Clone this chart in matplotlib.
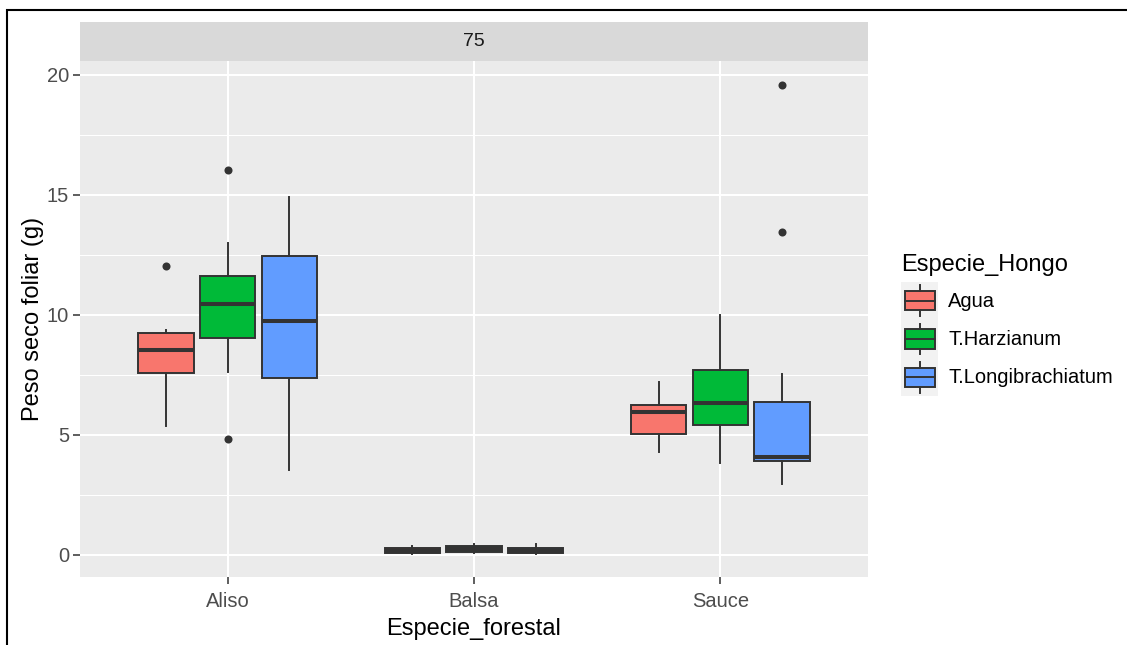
import matplotlib
matplotlib.use("Agg")
import matplotlib.pyplot as plt
from matplotlib.patches import Patch, Rectangle
from matplotlib.lines import Line2D
from matplotlib.legend_handler import HandlerBase
from matplotlib.ticker import MultipleLocator

plt.rcParams["font.family"] = ["Liberation Sans", "DejaVu Sans"]

# Data (box statistics per fungus, per forest species)
especies = ["Aliso", "Balsa", "Sauce"]
hongos = ["Agua", "T.Harzianum", "T.Longibrachiatum"]
colores = ["#F8766D", "#00BA38", "#619CFF"]
faceta = "75"

# rows: Agua, T.Harzianum, T.Longibrachiatum ; columns: Aliso, Balsa, Sauce
whisker_low = [[5.38, 0.03, 4.29], [7.63, 0.10, 3.83], [3.54, 0.02, 2.96]]
q1 = [[7.58, 0.10, 5.04], [9.04, 0.12, 5.42], [7.38, 0.10, 3.92]]
mediana = [[8.54, 0.18, 5.96], [10.46, 0.25, 6.33], [9.75, 0.18, 4.08]]
q3 = [[9.25, 0.27, 6.25], [11.63, 0.36, 7.71], [12.46, 0.28, 6.38]]
whisker_high = [[9.38, 0.36, 7.20], [13.00, 0.44, 10.00], [14.92, 0.44, 7.54]]
outliers = [[[12.05], [], []], [[16.04, 4.83], [], []], [[], [], [19.58, 13.46]]]

W, H = 1127, 645
fig = plt.figure(figsize=(W / 100, H / 100), dpi=100)

# panel and strip
ax = fig.add_axes([80 / W, 1 - 577 / H, 788 / W, 516 / H])
strip = fig.add_axes([80 / W, 1 - 61 / H, 788 / W, 39 / H])
strip.set_facecolor("#D9D9D9")
strip.set_xticks([])
strip.set_yticks([])
for s in strip.spines.values():
    s.set_visible(False)
strip.text(0.5, 0.5, faceta, ha="center", va="center", fontsize=14, color="#1A1A1A",
           transform=strip.transAxes)

ax.set_facecolor("#EBEBEB")
for s in ax.spines.values():
    s.set_visible(False)

dodge = [-0.25, 0.0, 0.25]
for i, hongo in enumerate(hongos):
    stats = []
    for j in range(len(especies)):
        stats.append({
            "whislo": whisker_low[i][j], "q1": q1[i][j], "med": mediana[i][j],
            "q3": q3[i][j], "whishi": whisker_high[i][j], "fliers": outliers[i][j],
        })
    pos = [j + dodge[i] for j in range(len(especies))]
    ax.bxp(stats, positions=pos, widths=0.225, patch_artist=True, showcaps=False,
           manage_ticks=False,
           boxprops=dict(facecolor=colores[i], edgecolor="#333333", linewidth=1.4),
           medianprops=dict(color="#333333", linewidth=2.9),
           whiskerprops=dict(color="#333333", linewidth=1.4),
           flierprops=dict(marker="o", markersize=5.8, markerfacecolor="#333333",
                           markeredgecolor="none"))

ax.set_xlim(-0.6, 2.6)
ax.set_ylim(-0.92, 20.58)
ax.set_xticks(range(len(especies)), especies)
ax.yaxis.set_major_locator(MultipleLocator(5))
ax.yaxis.set_minor_locator(MultipleLocator(2.5))
ax.set_axisbelow(True)
ax.grid(which="major", color="white", linewidth=1.5)
ax.grid(which="minor", axis="y", color="white", linewidth=0.75)
ax.tick_params(which="major", length=5, width=1.1, color="#333333",
               labelcolor="#4D4D4D", labelsize=14.5, pad=3)
ax.tick_params(axis="x", pad=5.5)
ax.tick_params(which="minor", length=0)

ax.set_xlabel("Especie_forestal", fontsize=17, labelpad=5)
ax.set_ylabel("Peso seco foliar (g)", fontsize=17, labelpad=2)


class BoxKey(HandlerBase):
    def create_artists(self, legend, orig_handle, xdescent, ydescent, width, height,
                       fontsize, trans):
        x0, y0 = -xdescent, -ydescent
        bg = Rectangle((x0, y0), width, height, facecolor="#F2F2F2", edgecolor="none",
                       transform=trans)
        box = Rectangle((x0 + 0.1 * width, y0 + 0.25 * height), 0.8 * width, 0.5 * height,
                        facecolor=orig_handle.get_facecolor(), edgecolor="#333333",
                        linewidth=1.4, transform=trans)
        xm = x0 + 0.5 * width
        med = Line2D([x0 + 0.1 * width, x0 + 0.9 * width], [y0 + 0.5 * height] * 2,
                     color="#333333", linewidth=1.4, transform=trans)
        w1 = Line2D([xm, xm], [y0 + 0.1 * height, y0 + 0.25 * height], color="#333333",
                    linewidth=1.4, transform=trans)
        w2 = Line2D([xm, xm], [y0 + 0.75 * height, y0 + 0.9 * height], color="#333333",
                    linewidth=1.4, transform=trans)
        return [bg, box, med, w1, w2]


handles = [Patch(facecolor=c) for c in colores]
leg = fig.legend(handles, hongos, handler_map={Patch: BoxKey()},
                 loc="upper left", bbox_to_anchor=(901 / W, 1 - 254 / H),
                 frameon=False, fontsize=14.5, title="Especie_Hongo", title_fontsize=17,
                 alignment="left", handlelength=1.85, handleheight=2.55,
                 labelspacing=0, handletextpad=0.5, borderpad=0, borderaxespad=0)
leg._legend_box.sep = 4

# outer frame of the screenshot
fig.patches.append(Rectangle((7 / W, -0.1), 1.1, 1.1 - 10 / H, transform=fig.transFigure,
                             fill=False, edgecolor="black", linewidth=1.5))

fig.savefig("out.png", dpi=100)
